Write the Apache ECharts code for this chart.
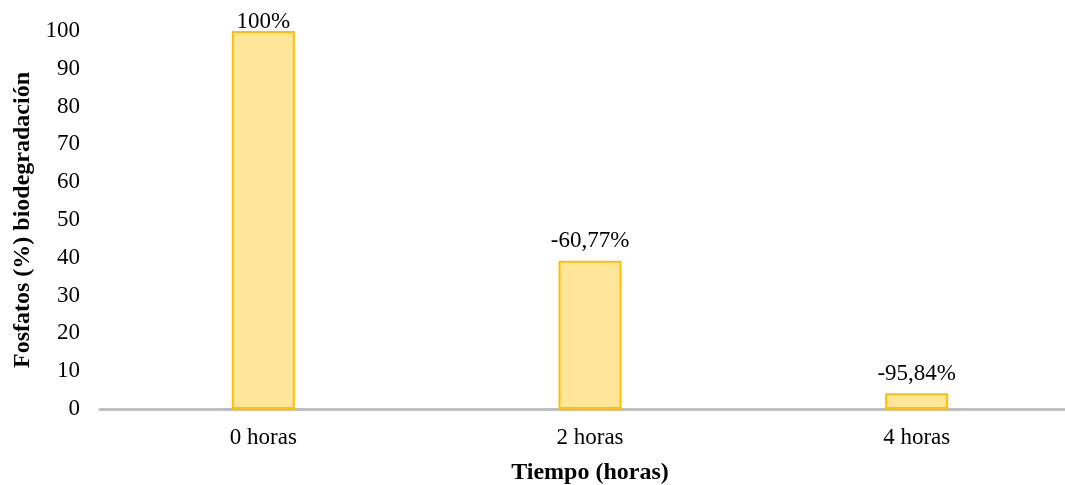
<!DOCTYPE html>
<html>
<head>
<meta charset="utf-8">
<script src="https://cdn.jsdelivr.net/npm/echarts@6/dist/echarts.min.js"></script>
<style>
  html, body { margin: 0; padding: 0; background: #fff; }
  #chart { width: 1065px; height: 485px; }
</style>
</head>
<body>
<div id="chart"></div>
<script>
// Phosphate remaining (%) at each sampling time
const categories = ['0 horas', '2 horas', '4 horas'];
const remaining = [100, 39.23, 4.16];
const changeLabels = ['100%', '-60,77%', '-95,84%'];
const yTicks = { min: 0, max: 100, interval: 10 };

const serif = '"Liberation Serif", "Times New Roman", serif';

// A bar reaching the axis maximum keeps its label tucked just above the bar top
const barData = remaining.map(v => v >= yTicks.max ? { value: v, label: { distance: -2 } } : v);

const chart = echarts.init(document.getElementById('chart'), null, { renderer: 'canvas' });

chart.setOption({
  animation: false,
  grid: { left: 100, top: 31, height: 378, width: 980, outerBoundsMode: 'none', containLabel: false },
  xAxis: {
    type: 'category',
    data: categories,
    axisLine: { show: true, lineStyle: { color: '#BFBFBF', width: 3 } },
    axisTick: { show: false },
    axisLabel: { color: '#000', fontFamily: serif, fontSize: 23, margin: 17 },
    name: 'Tiempo (horas)',
    nameLocation: 'middle',
    nameGap: 52,
    nameTextStyle: { color: '#000', fontFamily: serif, fontSize: 24, fontWeight: 'bold' }
  },
  yAxis: {
    type: 'value',
    min: yTicks.min,
    max: yTicks.max,
    interval: yTicks.interval,
    axisLine: { show: false },
    axisTick: { show: false },
    splitLine: { show: false },
    axisLabel: { color: '#000', fontFamily: serif, fontSize: 23, margin: 20 },
    name: 'Fosfatos (%) biodegradación',
    nameLocation: 'middle',
    nameGap: 65,
    nameTextStyle: { color: '#000', fontFamily: serif, fontSize: 24, fontWeight: 'bold' }
  },
  series: [{
    type: 'bar',
    data: barData,
    barWidth: 63,
    itemStyle: { color: '#FFE699', borderColor: '#FFC000', borderWidth: 2 },
    label: {
      show: true,
      position: 'top',
      distance: 8,
      color: '#000',
      fontFamily: serif,
      fontSize: 23,
      formatter: p => changeLabels[p.dataIndex]
    }
  }]
});
</script>
</body>
</html>
